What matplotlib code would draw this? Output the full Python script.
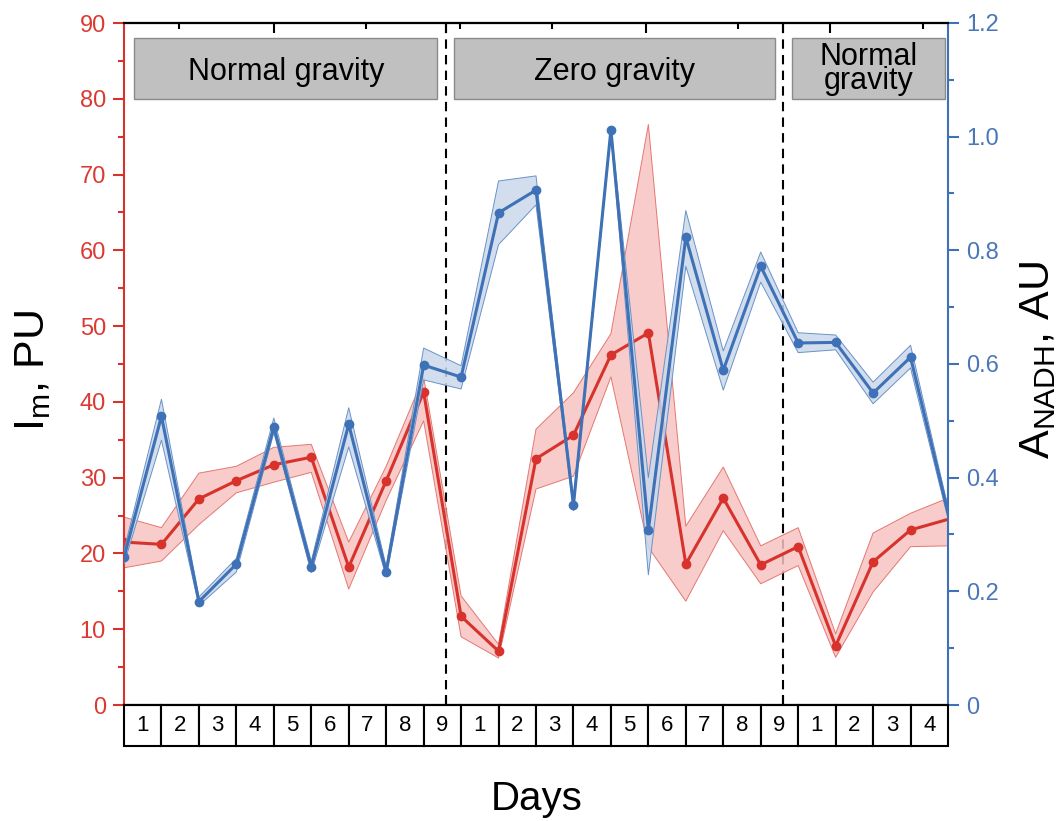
import matplotlib
matplotlib.use("Agg")
import matplotlib.pyplot as plt
import matplotlib.transforms as mtransforms
from matplotlib.patches import Rectangle
import numpy as np

plt.rcParams['font.family'] = ['Liberation Sans', 'DejaVu Sans']
plt.rcParams['mathtext.fontset'] = 'custom'
plt.rcParams['mathtext.rm'] = 'Liberation Sans'
plt.rcParams['mathtext.it'] = 'Liberation Sans'

# ---------------- data ----------------
day_labels = ["1", "2", "3", "4", "5", "6", "7", "8", "9",
              "1", "2", "3", "4", "5", "6", "7", "8", "9",
              "1", "2", "3", "4"]

im_mean = [21.5, 21.2, 27.2, 29.6, 31.7, 32.7, 18.2, 29.6, 41.3,
           11.7, 7.1, 32.5, 35.6, 46.2, 49.1, 18.6, 27.3, 18.5,
           20.9, 7.8, 18.9, 23.1, 24.5]
im_low = [18.1, 19.0, 23.8, 28.0, 29.4, 30.7, 15.3, 27.0, 37.5,
          9.0, 6.2, 28.5, 30.2, 43.3, 20.8, 13.7, 23.0, 16.0,
          18.4, 6.3, 14.9, 20.9, 21.0]
im_high = [24.8, 23.4, 30.6, 31.5, 34.0, 34.4, 21.5, 31.5, 43.3,
           14.4, 8.0, 36.4, 41.2, 49.0, 76.6, 23.6, 31.4, 21.0,
           23.4, 9.4, 22.7, 25.3, 27.3]

nadh_mean = [0.260, 0.508, 0.182, 0.248, 0.489, 0.243, 0.494, 0.234, 0.598,
             0.577, 0.866, 0.906, 0.352, 1.012, 0.308, 0.823, 0.589, 0.772,
             0.637, 0.638, 0.549, 0.612, 0.338]
nadh_low = [0.248, 0.466, 0.175, 0.234, 0.479, 0.233, 0.454, 0.226, 0.572,
            0.556, 0.810, 0.880, 0.342, 1.005, 0.229, 0.772, 0.554, 0.744,
            0.620, 0.625, 0.530, 0.593, 0.328]
nadh_high = [0.272, 0.538, 0.190, 0.258, 0.505, 0.253, 0.523, 0.244, 0.628,
             0.597, 0.922, 0.931, 0.362, 1.018, 0.400, 0.870, 0.623, 0.797,
             0.655, 0.651, 0.568, 0.633, 0.348]

phase_labels = ["Normal gravity", "Zero gravity", "Normal\ngravity"]

# ---------------- layout / style ----------------
RED = '#d7322c'
RED_TXT = '#db3a33'
RED_FILL = '#f6c3c1'
RED_EDGE = '#e57772'
BLUE = '#3e71b5'
BLUE_TXT = '#4a77b8'
BLUE_FILL = '#cad9ec'
BLUE_EDGE = '#6a92c8'

W, H = 1060, 821
fig = plt.figure(figsize=(W / 100, H / 100), dpi=100)
L, R, T, B = 124, 948, 23, 705
ax = fig.add_axes([L / W, 1 - B / H, (R - L) / W, (B - T) / H])
ax2 = ax.twinx()


def py(px):
    """pixel row -> axes fraction"""
    return (B - px) / (B - T)


x = np.arange(len(im_mean))
mk = list(range(len(im_mean) - 1))

# red series
ax.fill_between(x, im_low, im_high, facecolor=RED_FILL, edgecolor='none', alpha=0.85, zorder=2)
ax.plot(x, im_low, color=RED_EDGE, lw=0.7, zorder=2.5)
ax.plot(x, im_high, color=RED_EDGE, lw=0.7, zorder=2.5)
ax.plot(x, im_mean, color=RED, lw=2.2, marker='o', ms=6, markevery=mk, zorder=3)

# blue series
ax2.fill_between(x, nadh_low, nadh_high, facecolor=BLUE_FILL, edgecolor='none', alpha=0.85, zorder=2)
ax2.plot(x, nadh_low, color=BLUE_EDGE, lw=0.7, zorder=2.5)
ax2.plot(x, nadh_high, color=BLUE_EDGE, lw=0.7, zorder=2.5)
ax2.plot(x, nadh_mean, color=BLUE, lw=2.2, marker='o', ms=6, markevery=mk, zorder=3)

ax.set_xlim(0, 22)
ax.set_ylim(0, 90)
ax2.set_ylim(0, 1.2)

# phase separators
sep = [8.6, 17.6]
for s in sep:
    ax.axvline(s, color='black', lw=1.5, ls=(0, (4.5, 3)), zorder=1)

# phase boxes (drawn in data-x / axes-y coordinates)
tb = mtransforms.blended_transform_factory(ax2.transData, ax2.transAxes)
box_x0 = [0.27, 8.82, 17.83]
box_x1 = [8.37, 17.38, 21.93]
for x0, x1, lab in zip(box_x0, box_x1, phase_labels):
    ax2.add_patch(Rectangle((x0, py(99)), x1 - x0, py(38) - py(99), transform=tb,
                            facecolor='#c0c0c0', edgecolor='#8a8a8a', lw=1.0, zorder=4))
    if '\n' not in lab:
        ax2.text((x0 + x1) / 2, py(80), lab, transform=tb, ha='center', va='baseline',
                 fontsize=22, zorder=5)
    else:
        ax2.text((x0 + x1) / 2, py(69), lab, transform=tb, ha='center', va='center',
                 fontsize=22, linespacing=0.7, zorder=5)

# y axes styling
for a in (ax, ax2):
    a.spines['top'].set_color('black')
    a.spines['bottom'].set_color('black')
    a.spines['top'].set_linewidth(1.5)
    a.spines['bottom'].set_linewidth(1.5)
ax.spines['left'].set_color(RED)
ax.spines['left'].set_linewidth(1.5)
ax2.spines['left'].set_visible(False)
ax2.spines['right'].set_color(BLUE)
ax2.spines['right'].set_linewidth(1.5)
ax.spines['right'].set_visible(False)

ax.set_yticks(np.arange(0, 91, 10))
ax.set_yticks(np.arange(5, 90, 10), minor=True)
ax.tick_params(axis='y', which='major', colors=RED, labelcolor=RED_TXT, labelsize=17,
               length=8, width=1.5, direction='out', pad=5)
ax.tick_params(axis='y', which='minor', colors=RED, length=4, width=1.5, direction='out')

ax2.set_yticks([0, 0.2, 0.4, 0.6, 0.8, 1.0, 1.2])
ax2.set_yticklabels(['0', '0.2', '0.4', '0.6', '0.8', '1.0', '1.2'])
ax2.set_yticks(np.arange(0.1, 1.2, 0.2), minor=True)
ax2.tick_params(axis='y', which='major', colors=BLUE, labelcolor=BLUE_TXT, labelsize=17,
                length=8, width=1.5, direction='out', pad=5)
ax2.tick_params(axis='y', which='minor', colors=BLUE, length=4, width=1.5, direction='out')

# bottom ticks at separators, no labels
ax.set_xticks(sep)
ax.set_xticks([], minor=True)
ax.tick_params(axis='x', which='major', bottom=True, top=False, labelbottom=False,
               direction='in', length=7, width=1.5, color='black')
ax2.tick_params(axis='x', which='both', bottom=False, top=False, labelbottom=False)

# top ticks
top = ax.secondary_xaxis('top')
top.set_xticks([4.0, 8.6, 13.95, 17.6, 18.85])
top.set_xticks([1.47, 6.47, 8.98, 11.44, 16.39, 21.34], minor=True)
top.tick_params(axis='x', which='major', direction='in', length=7, width=1.5, labeltop=False)
top.tick_params(axis='x', which='minor', direction='in', length=4, width=1.5, labeltop=False)
top.spines['top'].set_linewidth(1.5)

# day table below axis
trans = mtransforms.blended_transform_factory(ax.transData, ax.transAxes)
cell_h = (746 - 705) / (B - T)
for i, lab in enumerate(day_labels):
    ax.add_patch(Rectangle((i, -cell_h), 1, cell_h, transform=trans, clip_on=False,
                           facecolor='white', edgecolor='black', lw=1.5, zorder=5))
    ax.text(i + 0.5, -cell_h / 2, lab, transform=trans, ha='center', va='center',
            fontsize=16, clip_on=False, zorder=6)

# axis labels
fig.text(537 / W, 1 - 799 / H, 'Days', ha='center', va='center', fontsize=29)
fig.text(33 / W, 1 - 371 / H, r'$\mathregular{I_m}$, PU', ha='center', va='center',
         rotation=90, fontsize=31)
fig.text(1038 / W, 1 - 360 / H, r'$\mathregular{A_{NADH}}$, AU', ha='center', va='center',
         rotation=90, fontsize=31)

fig.savefig('out.png', dpi=100)
